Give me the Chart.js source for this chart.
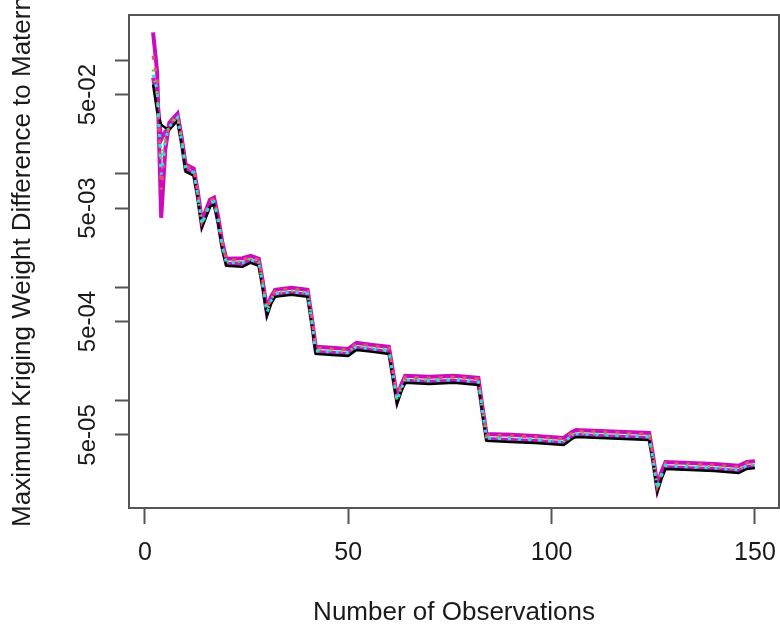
<!DOCTYPE html>
<html>
<head>
<meta charset="utf-8">
<script src="https://cdn.jsdelivr.net/npm/chart.js@4.4.1/dist/chart.umd.min.js"></script>
<style>
  html, body { margin: 0; padding: 0; background: #fff; }
  #wrap { width: 780px; height: 633px; }
</style>
</head>
<body>
<div id="wrap"><canvas id="krigingChart" width="780" height="633"></canvas></div>
<script>
var observations = [2,3,4,5,6,8,9,10,12,13,14,16,17,18,19,20,24,26,28,29,30,31,32,36,40,41,42,46,50,52,56,60,61,62,63,64,70,76,82,83,84,90,96,103,105,106,112,118,124,125,126,127,128,134,140,146,148,150];

// max kriging weight difference, one array per curve (bottom edge of the bundle first)
var diffCurve1 = [0.0614,0.0354,0.0272,0.0256,0.0246,0.0295,0.01853,0.01048,0.00966,0.00606,0.00336,0.00514,0.00536,0.00364,0.00219,0.00155,0.00152,0.00165,0.00155,0.000968,0.000561,0.000716,0.000826,0.000860,0.000826,0.000478,0.000259,0.000254,0.000249,0.000281,0.000270,0.000259,0.000156,0.0000940,0.000120,0.000144,0.000141,0.000144,0.000138,0.0000766,0.0000443,0.0000434,0.0000425,0.0000408,0.0000461,0.0000480,0.0000470,0.0000461,0.0000452,0.0000278,0.0000157,0.0000205,0.0000251,0.0000245,0.0000241,0.0000231,0.0000251,0.0000255];
var diffCurve2 = [0.0708,0.0453,0.0201,0.0236,0.0256,0.0307,0.0193,0.01092,0.01006,0.00631,0.00349,0.00536,0.00558,0.00379,0.00228,0.00161,0.00163,0.00172,0.00161,0.00101,0.000585,0.000746,0.000860,0.000896,0.000860,0.000497,0.000270,0.000265,0.000259,0.000293,0.000281,0.000270,0.000162,0.0000979,0.000125,0.000150,0.000147,0.000150,0.000144,0.0000798,0.0000461,0.0000452,0.0000443,0.0000425,0.0000480,0.0000500,0.0000490,0.0000480,0.0000470,0.0000289,0.0000163,0.0000213,0.0000261,0.0000255,0.0000251,0.0000241,0.0000261,0.0000266];
var diffCurve3 = [0.0833,0.0500,0.01337,0.0209,0.0267,0.0320,0.0201,0.01137,0.01048,0.00657,0.00364,0.00558,0.00581,0.00395,0.00238,0.00168,0.00168,0.00179,0.00168,0.00105,0.000609,0.000777,0.000896,0.000933,0.000896,0.000518,0.000281,0.000276,0.000270,0.000305,0.000293,0.000281,0.000169,0.000102,0.000130,0.000156,0.000153,0.000156,0.000150,0.0000831,0.0000480,0.0000471,0.0000461,0.0000443,0.0000500,0.0000521,0.0000510,0.0000500,0.0000490,0.0000301,0.0000170,0.0000222,0.0000272,0.0000266,0.0000261,0.0000251,0.0000272,0.0000277];
var diffCurve4 = [0.0752,0.0555,0.00986,0.0201,0.0261,0.0314,0.0197,0.01114,0.01027,0.00644,0.00357,0.00547,0.00569,0.00387,0.00233,0.00165,0.00166,0.00175,0.00165,0.00103,0.000597,0.000761,0.000878,0.000914,0.000878,0.000508,0.000275,0.000270,0.000265,0.000299,0.000287,0.000275,0.000166,0.000100,0.000127,0.000153,0.000150,0.000153,0.000147,0.0000814,0.0000470,0.0000462,0.0000452,0.0000434,0.0000490,0.0000511,0.0000500,0.0000490,0.0000480,0.0000295,0.0000167,0.0000218,0.0000267,0.0000261,0.0000256,0.0000246,0.0000267,0.0000271];
var diffCurve5 = [0.110,0.0680,0.00726,0.01815,0.0278,0.0327,0.02092,0.01184,0.01091,0.00684,0.00379,0.00581,0.00605,0.00411,0.00248,0.00175,0.00174,0.00186,0.00175,0.00109,0.000634,0.000809,0.000933,0.000971,0.000933,0.000539,0.000293,0.000287,0.000281,0.000318,0.000305,0.000293,0.000176,0.000106,0.000135,0.000162,0.000159,0.000162,0.000156,0.0000865,0.0000500,0.0000490,0.0000480,0.0000461,0.0000521,0.0000542,0.0000531,0.0000521,0.0000510,0.0000313,0.0000177,0.0000231,0.0000283,0.0000277,0.0000272,0.0000261,0.0000283,0.0000288];
var diffCurve6 = [0.177,0.080,0.00411,0.0164,0.0284,0.0340,0.02137,0.01209,0.01114,0.00698,0.00387,0.00593,0.00618,0.00420,0.00253,0.00179,0.00181,0.00190,0.00179,0.00112,0.000647,0.000826,0.000952,0.000992,0.000952,0.000551,0.000299,0.000293,0.000287,0.000324,0.000311,0.000299,0.000180,0.000108,0.000138,0.000166,0.000163,0.000166,0.000159,0.0000883,0.0000510,0.0000501,0.0000490,0.0000471,0.0000532,0.0000554,0.0000542,0.0000532,0.0000521,0.0000320,0.0000181,0.0000236,0.0000289,0.0000283,0.0000277,0.0000267,0.0000289,0.0000294];

// axis ticks
var xTickValues = [0, 50, 100, 150];
var yTickValues = [1e-1, 5e-2, 1e-2, 5e-3, 1e-3, 5e-4, 1e-4, 5e-5];
var yTickLabels = ['', '5e-02', '', '5e-03', '', '5e-04', '', '5e-05'];

var ctx = document.getElementById('krigingChart').getContext('2d');

// R-style box around the plot region
var boxPlugin = {
    id: 'plotBox',
    afterDraw: function(chart) {
        var a = chart.chartArea;
        var c = chart.ctx;
        c.save();
        c.strokeStyle = '#555555';
        c.lineWidth = 2;
        c.strokeRect(a.left, a.top, a.right - a.left, a.bottom - a.top);
        c.restore();
    }
};

function makeLine(data, color, dash, width) {
    return {
        data: data,
        borderColor: color,
        borderWidth: width,
        borderDash: dash,
        pointRadius: 0,
        fill: false,
        tension: 0
    };
}

// first dataset is drawn on top
var myChart = new Chart(ctx, {
    type: 'line',
    data: {
        labels: observations,
        datasets: [
            makeLine(diffCurve4, '#28E2E5', [3, 7], 3),
            makeLine(diffCurve3, '#61D04F', [2, 9], 3),
            makeLine(diffCurve5, '#DF536B', [4, 8], 3),
            makeLine(diffCurve1, '#000000', [], 2.5),
            makeLine(diffCurve6, '#CD0BBC', [], 4),
            makeLine(diffCurve2, '#C21BC4', [], 4)
        ]
    },
    options: {
        responsive: false,
        animation: false,
        layout: { padding: { left: 0, right: 1, top: 15, bottom: 0 } },
        plugins: {
            legend: { display: false },
            tooltip: { enabled: false }
        },
        scales: {
            x: {
                type: 'linear',
                min: -3.92,
                max: 155.92,
                afterBuildTicks: function(scale) {
                    scale.ticks = xTickValues.map(function(v) { return { value: v }; });
                },
                afterFit: function(scale) {
                    scale.height = 125;
                    scale.paddingLeft = 0;
                    scale.paddingRight = 0;
                },
                grid: { display: true, drawOnChartArea: false, drawTicks: true, tickLength: 16, tickColor: '#555555', tickWidth: 2 },
                border: { display: false },
                ticks: { autoSkip: false, maxRotation: 0, padding: 14, color: '#1a1a1a', font: { family: 'Liberation Sans', size: 25 } },
                title: { display: true, text: 'Number of Observations', color: '#1a1a1a', padding: { top: 0, bottom: 5 }, font: { family: 'Liberation Sans', size: 26 } }
            },
            y: {
                type: 'logarithmic',
                min: 1.135e-5,
                max: 0.252,
                afterBuildTicks: function(scale) {
                    scale.ticks = yTickValues.map(function(v) { return { value: v }; });
                },
                afterFit: function(scale) {
                    scale.width = 129;
                    scale.paddingTop = 0;
                    scale.paddingBottom = 0;
                },
                grid: { display: true, drawOnChartArea: false, drawTicks: true, tickLength: 14, tickColor: '#555555', tickWidth: 2 },
                border: { display: false },
                ticks: {
                    autoSkip: false,
                    minRotation: 90,
                    maxRotation: 90,
                    crossAlign: 'center',
                    padding: -4,
                    color: '#1a1a1a',
                    font: { family: 'Liberation Sans', size: 24 },
                    callback: function(value, index) { return yTickLabels[index]; }
                },
                title: { display: true, text: 'Maximum Kriging Weight Difference to Matern', color: '#1a1a1a', padding: { top: 7, bottom: 0 }, font: { family: 'Liberation Sans', size: 26 } }
            }
        }
    },
    plugins: [boxPlugin]
});
</script>
</body>
</html>
